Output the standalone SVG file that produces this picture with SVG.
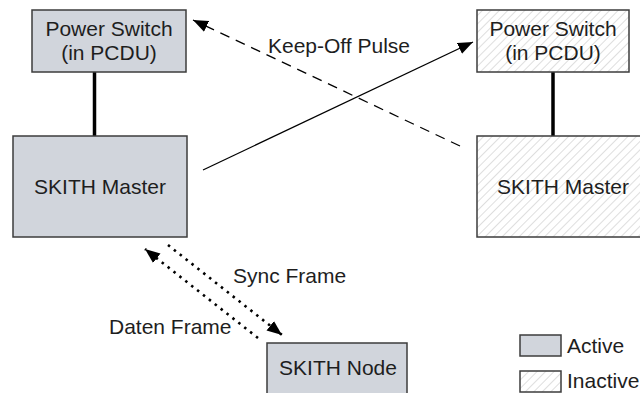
<svg xmlns="http://www.w3.org/2000/svg" width="640" height="393" viewBox="0 0 640 393">
<style>
.box{stroke:#3c3c3c;stroke-width:1.5}
.active{fill:#d1d5dc}
.inactive{fill:url(#hatch)}
text{font-family:"Liberation Sans",Arial,sans-serif;font-size:21px;fill:#1e1e1e}
.c{text-anchor:middle}
.bar{stroke:#000;stroke-width:3.5}
.arrow{fill:none;stroke:#000;stroke-width:1.3}
.dash{stroke-dasharray:10 7}
.dot{stroke-width:2.6;stroke-dasharray:2.5 5}
</style>
<defs>
<pattern id="hatch" patternUnits="userSpaceOnUse" width="6" height="6" patternTransform="rotate(45)">
<rect width="6" height="6" fill="#ffffff"/>
<line x1="0" y1="0" x2="0" y2="6" stroke="#c9c9c9" stroke-width="1.2"/>
</pattern>
<marker id="ah" markerUnits="userSpaceOnUse" markerWidth="16" markerHeight="13" refX="15" refY="6" orient="auto">
<path d="M0,0 L15,6 L0,12 z" fill="#000"/>
</marker>
</defs>
<g id="connectors">
<line class="bar" x1="94.5" y1="72" x2="94.5" y2="136"/>
<line class="bar" x1="553" y1="72" x2="553" y2="136"/>
<line class="arrow" x1="203" y1="170" x2="473" y2="42" marker-end="url(#ah)"/>
<line class="arrow dash" x1="460" y1="146" x2="193" y2="20" marker-end="url(#ah)"/>
<line class="arrow dot" x1="168" y1="245" x2="282" y2="335" marker-end="url(#ah)"/>
<line class="arrow dot" x1="258" y1="338" x2="145" y2="249" marker-end="url(#ah)"/>
<text x="268" y="53">Keep-Off Pulse</text>
<text x="233" y="283">Sync Frame</text>
<text x="109" y="334">Daten Frame</text>
</g>
<g id="ps-left">
<rect class="box active" x="32" y="10" width="154" height="62"/>
<text class="c" x="109" y="36">Power Switch</text>
<text class="c" x="109" y="60">(in PCDU)</text>
</g>
<g id="master-left">
<rect class="box active" x="13" y="136" width="174" height="101"/>
<text class="c" x="100" y="194">SKITH Master</text>
</g>
<g id="ps-right">
<rect class="box inactive" x="477" y="10" width="152" height="62"/>
<text class="c" x="553" y="36">Power Switch</text>
<text class="c" x="553" y="60">(in PCDU)</text>
</g>
<g id="master-right">
<rect class="box inactive" x="477" y="136" width="173" height="101"/>
<text class="c" x="563" y="194">SKITH Master</text>
</g>
<g id="node">
<rect class="box active" x="267" y="343" width="140" height="60"/>
<text class="c" x="338" y="375">SKITH Node</text>
</g>
<g id="legend">
<rect class="box active" x="520" y="335" width="41" height="21"/>
<text x="567" y="353">Active</text>
<rect class="box inactive" x="520" y="371" width="41" height="21"/>
<text x="567" y="388">Inactive</text>
</g>
</svg>
